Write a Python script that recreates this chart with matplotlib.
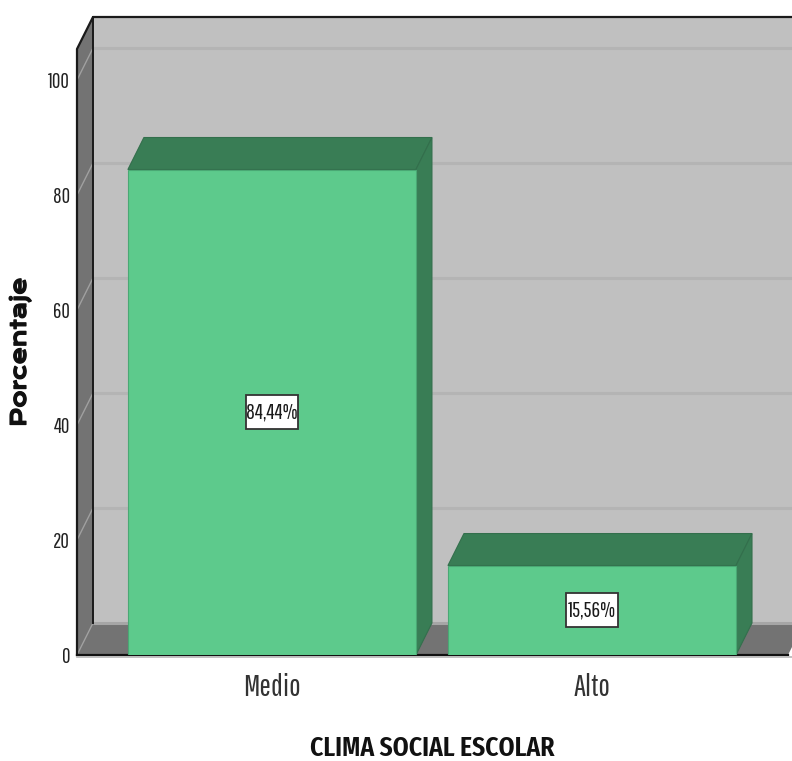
import matplotlib
matplotlib.use("Agg")
import matplotlib.pyplot as plt
import matplotlib.patheffects as pe
from matplotlib.patches import Polygon, Rectangle

categories = ['Medio', 'Alto']
values = [84.44, 15.56]
value_labels = ['84,44%', '15,56%']
yticks = [0, 20, 40, 60, 80, 100]

# fake 3D depth, in data units
dx = 0.05
dy = 5.565
ymax = 105.4
xmin, xmax = -0.609, 1.6125
width = 0.9

wall = '#c0c0c0'
side = '#737373'
grid = '#b4b4b4'
face = '#5dca8c'
dark = '#397d55'
narrow = ['Pathway Gothic One', 'Liberation Sans']
narrow_bold = ['Fira Sans Extra Condensed', 'Barlow Condensed', 'Liberation Sans']
wide_bold = ['Krona One', 'DejaVu Sans']

fig = plt.figure(figsize=(7.92, 7.61), dpi=100)
ax = fig.add_axes([77 / 792, 1 - 655 / 761, (788 - 77) / 792, (655 - 49) / 761])
ax.set_xlim(xmin, xmax)
ax.set_ylim(0, ymax)
for s in ax.spines.values():
    s.set_visible(False)


def poly(pts, fc, ec='none', lw=0, z=1):
    ax.add_patch(Polygon(pts, closed=True, fc=fc, ec=ec, lw=lw, zorder=z, clip_on=False))


# walls and floor
poly([(xmin + dx, dy), (xmax + dx, dy), (xmax + dx, ymax + dy), (xmin + dx, ymax + dy)], wall)
poly([(xmin, 0), (xmin + dx, dy), (xmin + dx, ymax + dy), (xmin, ymax)], side)
poly([(xmin, 0), (xmax, 0), (xmax + dx, dy), (xmin + dx, dy)], side)

# gridlines
for t in yticks:
    ax.plot([xmin + dx, xmax + dx], [t + dy, t + dy], color='#a6a6a6' if t == 0 else grid, lw=2.2,
            zorder=2, clip_on=False, solid_capstyle='butt')
    ax.plot([xmin, xmin + dx], [t, t + dy], color='#a0a0a0', lw=1.0, zorder=2, clip_on=False)

# frame
ax.plot([xmin, xmin, xmin + dx, xmax + dx], [0, ymax, ymax + dy, ymax + dy], color='#1a1a1a', lw=1.6,
        zorder=3, clip_on=False)
ax.plot([xmin + dx, xmin + dx], [ymax + dy, dy], color='#1a1a1a', lw=1.4, zorder=2.5, clip_on=False)
ax.plot([xmin, xmax], [0, 0], color='#111111', lw=1.6, zorder=3, clip_on=False)
ax.plot([xmin, xmax + 0.02], [-0.3, -0.3], color='#b5b5b5', lw=1.2, zorder=3, clip_on=False)

# bars
xs = range(len(categories))
for i, v in zip(xs, values):
    l, r = i - width / 2, i + width / 2
    poly([(l, v), (r, v), (r + dx, v + dy), (l + dx, v + dy)], dark, '#336f4c', 0.8, 4)
    poly([(r, 0), (r + dx, dy), (r + dx, v + dy), (r, v)], dark, '#336f4c', 0.8, 4)
ax.bar(list(xs), values, width=width, color=face, edgecolor='#4aa874', linewidth=0.8, zorder=5)

# value labels
for i, v, lab in zip(xs, values, value_labels):
    ax.add_patch(Rectangle((i - 0.08, v / 2 - 2.95), 0.16, 5.9, fc='white', ec='#333333', lw=1.3, zorder=6))
    ax.text(i, v / 2, lab, ha='center', va='center', fontsize=15.5, family=narrow, color='#1a1a1a', zorder=7)

ax.set_xticks(list(xs))
ax.set_xticklabels(categories, family=narrow, fontsize=22, color='#333333')
ax.set_yticks(yticks)
ax.set_yticklabels([str(t) for t in yticks], family=narrow, fontsize=15, color='#222222')
ax.tick_params(axis='both', length=0)
ax.tick_params(axis='x', pad=13)
ax.tick_params(axis='y', pad=5)

# the font has no bold cut, so thicken it with a stroke
ylab = fig.text(20 / 792, 1 - 352 / 761, 'Porcentaje', rotation=90, ha='center', va='center', fontsize=15,
                fontweight='bold', family=wide_bold, color='#111111')
ylab.set_path_effects([pe.withStroke(linewidth=0.9, foreground='#111111')])
fig.text(432 / 792, 1 - 748 / 761, 'CLIMA SOCIAL ESCOLAR', ha='center', va='center', fontsize=20,
         fontweight='semibold', family=narrow_bold, color='#111111')

fig.savefig('out.png', dpi=100)
